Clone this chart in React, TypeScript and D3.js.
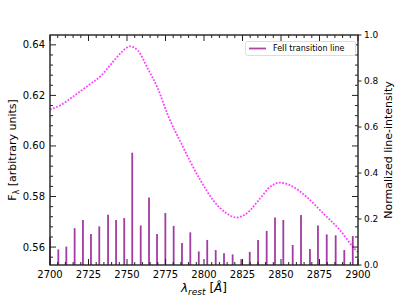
import React, { useRef, useEffect } from "react";
import * as d3 from "d3";

// FeII transition lines: wavelength (Å) and normalized intensity
const lineWave = [
  2700.0, 2705.4, 2710.6, 2716.0, 2721.4, 2726.6, 2732.0, 2737.7, 2742.9, 2748.2,
  2753.4, 2758.9, 2764.3, 2769.5, 2774.9, 2780.3, 2785.7, 2791.1, 2796.6, 2802.1,
  2807.6, 2813.0, 2818.6, 2824.2, 2829.7, 2835.1, 2840.7, 2846.1, 2851.5, 2857.6,
  2863.0, 2868.8, 2874.0, 2879.7, 2885.5, 2891.1, 2896.6,
];
const lineIntensity = [
  0.12, 0.068, 0.08, 0.16, 0.196, 0.135, 0.168, 0.219, 0.196, 0.204,
  0.488, 0.172, 0.294, 0.135, 0.226, 0.17, 0.096, 0.142, 0.059, 0.109,
  0.065, 0.051, 0.046, 0.025, 0.057, 0.109, 0.148, 0.207, 0.196, 0.087,
  0.217, 0.07, 0.172, 0.133, 0.129, 0.065, 0.126,
];

// model flux curve
const fluxWave = [
  2700, 2707.3, 2716, 2724.7, 2733.3, 2739.8, 2746.3, 2751.8, 2757.1, 2763.6,
  2770.1, 2776.6, 2785.3, 2797.4, 2806, 2814.7, 2821.2, 2827.7, 2836.4, 2842.9,
  2849.4, 2855.8, 2866.7, 2877.5, 2888.3, 2897, 2900,
];
const fluxValue = [
  0.6144, 0.6163, 0.62, 0.6239, 0.6279, 0.6325, 0.637, 0.6394, 0.6377, 0.6305,
  0.6226, 0.6121, 0.6009, 0.5867, 0.5785, 0.5733, 0.5717, 0.5733, 0.5792, 0.5838,
  0.5855, 0.5845, 0.5798, 0.5733, 0.5667, 0.5599, 0.558,
];

const xTicks = [2700, 2725, 2750, 2775, 2800, 2825, 2850, 2875, 2900];
const yLeftTicks = [0.56, 0.58, 0.6, 0.62, 0.64];
const yRightTicks = [0, 0.2, 0.4, 0.6, 0.8, 1.0];

const App = () => {
  const svgRef = useRef(null);

  useEffect(() => {
    const width = 399;
    const height = 299;
    const m = { left: 50, right: 41, top: 35, bottom: 34 };
    const svg = d3.select(svgRef.current);
    svg.selectAll("*").remove();
    svg.attr("width", width).attr("height", height);

    const font = "DejaVu Sans, sans-serif";
    const x = d3.scaleLinear().domain([2700, 2900]).range([m.left, width - m.right]);
    const yL = d3.scaleLinear().domain([0.5529, 0.6439]).range([height - m.bottom, m.top]);
    const yR = d3.scaleLinear().domain([0, 1]).range([height - m.bottom, m.top]);
    const x0 = m.left, x1 = width - m.right, y0 = height - m.bottom, y1 = m.top;

    /* FeII lines */
    svg
      .append("g")
      .selectAll("line")
      .data(lineWave)
      .enter()
      .append("line")
      .attr("x1", (d) => x(d))
      .attr("x2", (d) => x(d))
      .attr("y1", yR(0))
      .attr("y2", (d, i) => yR(lineIntensity[i]))
      .attr("stroke", "#8b0a8b")
      .attr("stroke-opacity", 0.8)
      .attr("stroke-width", 1.8);

    /* flux curve */
    const line = d3
      .line()
      .x((d) => x(d[0]))
      .y((d) => yL(d[1]))
      .curve(d3.curveMonotoneX);
    svg
      .append("path")
      .datum(fluxWave.map((w, i) => [w, fluxValue[i]]))
      .attr("fill", "none")
      .attr("stroke", "#ff00ff")
      .attr("stroke-opacity", 0.75)
      .attr("stroke-width", 1.8)
      .attr("stroke-dasharray", "1.8 1.5")
      .attr("d", line);

    /* ticks */
    const tk = svg.append("g").attr("stroke", "#222").attr("stroke-width", 1);
    const xMinor = d3.range(2705, 2900, 5).filter((v) => v % 25 !== 0);
    xMinor.forEach((v) => {
      tk.append("line").attr("x1", x(v)).attr("x2", x(v)).attr("y1", y0).attr("y2", y0 - 3);
      tk.append("line").attr("x1", x(v)).attr("x2", x(v)).attr("y1", y1).attr("y2", y1 + 3);
    });
    xTicks.forEach((v) => {
      tk.append("line").attr("x1", x(v)).attr("x2", x(v)).attr("y1", y0).attr("y2", y0 - 6);
      tk.append("line").attr("x1", x(v)).attr("x2", x(v)).attr("y1", y1).attr("y2", y1 + 6);
    });
    const yMinor = d3.range(0.556, 0.644, 0.004).filter(
      (v) => Math.abs(Math.round(v / 0.02) * 0.02 - v) > 0.001
    );
    yMinor.forEach((v) => {
      tk.append("line").attr("x1", x0).attr("x2", x0 + 3).attr("y1", yL(v)).attr("y2", yL(v));
      tk.append("line").attr("x1", x1).attr("x2", x1 - 3).attr("y1", yL(v)).attr("y2", yL(v));
    });
    yLeftTicks.forEach((v) => {
      tk.append("line").attr("x1", x0).attr("x2", x0 + 6).attr("y1", yL(v)).attr("y2", yL(v));
      tk.append("line").attr("x1", x1).attr("x2", x1 - 6).attr("y1", yL(v)).attr("y2", yL(v));
    });
    yRightTicks.forEach((v) => {
      tk.append("line").attr("x1", x1).attr("x2", x1 + 3.5).attr("y1", yR(v)).attr("y2", yR(v));
    });

    /* frame */
    svg
      .append("rect")
      .attr("x", x0)
      .attr("y", y1)
      .attr("width", x1 - x0)
      .attr("height", y0 - y1)
      .attr("fill", "none")
      .attr("stroke", "#222")
      .attr("stroke-width", 1.4);

    /* tick labels */
    svg
      .append("g")
      .selectAll("text")
      .data(xTicks)
      .enter()
      .append("text")
      .attr("x", (d) => x(d))
      .attr("y", y0 + 13)
      .attr("text-anchor", "middle")
      .style("font-family", font)
      .style("font-size", "10px")
      .text((d) => d);
    svg
      .append("g")
      .selectAll("text")
      .data(yLeftTicks)
      .enter()
      .append("text")
      .attr("x", x0 - 5)
      .attr("y", (d) => yL(d))
      .attr("dy", "0.35em")
      .attr("text-anchor", "end")
      .style("font-family", font)
      .style("font-size", "10px")
      .text((d) => d.toFixed(2));
    svg
      .append("g")
      .selectAll("text")
      .data(yRightTicks)
      .enter()
      .append("text")
      .attr("x", x1 + 6)
      .attr("y", (d) => yR(d))
      .attr("dy", "0.35em")
      .style("font-family", font)
      .style("font-size", "9px")
      .text((d) => d.toFixed(1));

    /* axis labels */
    const yl = svg
      .append("text")
      .attr("transform", `translate(16, ${(y0 + y1) / 2}) rotate(-90)`)
      .attr("text-anchor", "middle")
      .style("font-family", font)
      .style("font-size", "11px");
    yl.append("tspan").text("F");
    yl.append("tspan").attr("dy", 3).style("font-size", "8px").text("λ");
    yl.append("tspan").attr("dy", -3).text(" [arbitrary units]");

    svg
      .append("text")
      .attr("transform", `translate(388, ${(y0 + y1) / 2}) rotate(-90)`)
      .attr("text-anchor", "middle")
      .attr("dy", "0.35em")
      .style("font-family", font)
      .style("font-size", "11px")
      .text("Normalized line-intensity");

    const xl = svg
      .append("text")
      .attr("x", (x0 + x1) / 2)
      .attr("y", 292)
      .attr("text-anchor", "middle")
      .style("font-family", font)
      .style("font-size", "12px");
    xl.append("tspan").style("font-style", "italic").text("λ");
    xl.append("tspan").attr("dy", 3).style("font-style", "italic").style("font-size", "9px").text("rest");
    xl.append("tspan").attr("dy", -3).text(" [");
    xl.append("tspan").style("font-style", "italic").text("Å");
    xl.append("tspan").text("]");

    /* legend */
    const lg = svg.append("g");
    lg.append("rect")
      .attr("x", 245.5)
      .attr("y", 41.5)
      .attr("width", 110)
      .attr("height", 14)
      .attr("rx", 2)
      .attr("fill", "white")
      .attr("stroke", "#ddd");
    lg.append("line")
      .attr("x1", 249)
      .attr("x2", 266)
      .attr("y1", 48.5)
      .attr("y2", 48.5)
      .attr("stroke", "#8b0a8b")
      .attr("stroke-opacity", 0.75)
      .attr("stroke-width", 1.8);
    lg.append("text")
      .attr("x", 273)
      .attr("y", 48.5)
      .attr("dy", "0.35em")
      .style("font-family", font)
      .style("font-size", "8px")
      .text("FeII transition line");
  }, []);

  return (
    <div style={{ position: "absolute", left: 0, top: 0 }}>
      <svg ref={svgRef}></svg>
    </div>
  );
};

export default App;
